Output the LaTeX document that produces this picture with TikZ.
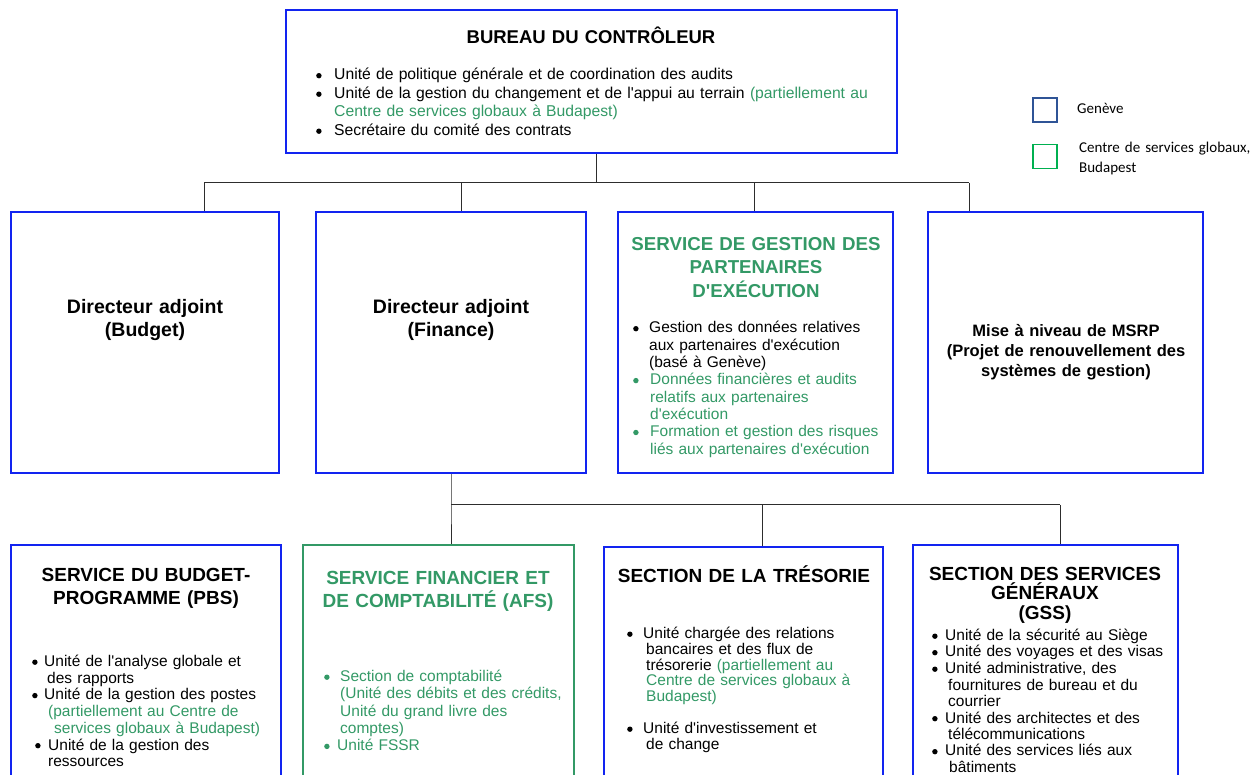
\documentclass[tikz,border=0pt]{standalone}
\usepackage{fontspec}
\setmainfont{Liberation Sans}[Ligatures=TeXOff]
\newfontfamily\legfont{Carlito}

\definecolor{boxblue}{RGB}{18,36,240}
\definecolor{gsgreen}{RGB}{51,153,102}
\definecolor{legblue}{RGB}{47,84,150}
\definecolor{leggreen}{RGB}{0,176,80}
\definecolor{linkgray}{RGB}{45,45,45}

% round bullet and bulleted paragraphs with a hanging indent
\newcommand\bdot{\tikz[baseline=-4.3pt]\fill (0,0) circle (2.7pt);}
\newcommand\bitem[2][14pt]{\hangindent=#1\hangafter=1\makebox[#1][l]{\bdot}#2}
\newcommand\gitem[2][14pt]{\hangindent=#1\hangafter=1{\color{gsgreen}\makebox[#1][l]{\bdot}#2}}
\newcommand\fsz[2]{\fontsize{#1}{#2}\selectfont}

\tikzset{
  unitbox/.style={draw=boxblue, line width=1.8pt, inner sep=0pt},
  gsbox/.style={draw=gsgreen, line width=1.8pt, inner sep=0pt},
  headtxt/.style={inner sep=0pt, anchor=base, align=center, text width=320pt},
  listtxt/.style={inner sep=0pt, anchor=base west, align=left},
  link/.style={draw=linkgray, line width=1pt},
  legbox/.style={line width=1.6pt, minimum size=24pt, inner sep=0pt},
}

\begin{document}
\begin{tikzpicture}[x=1pt, y=-1pt]
\useasboundingbox (0,0) rectangle (1254,775);
\clip (0,0) rectangle (1254,775);

% ---------- Bureau du Contrôleur ----------
\node[unitbox, minimum width=611pt, minimum height=143pt] (top) at (591.5,81.5) {};
\node[headtxt, font=\bfseries\fsz{18.5}{22}] (topT) at (591,44) {BUREAU DU CONTRÔLEUR};
\node[listtxt, text width=575pt, font=\fsz{15.7}{18.5}] (topL) at (316,80) {%
\bitem[18pt]{Unité de politique générale et de coordination des audits}\par
\bitem[18pt]{Unité de la gestion du changement et de l'appui au terrain \textcolor{gsgreen}{(partiellement au\newline Centre de services globaux à Budapest)}}\par
\bitem[18pt]{Secrétaire du comité des contrats}\par};

% ---------- legend ----------
\node[legbox, draw=legblue] (lgb) at (1045,110) {};
\node[inner sep=0pt, anchor=base west, font=\legfont\fsz{15}{20}] (lgbT) at (1077,114) {Genève};
\node[legbox, draw=leggreen] (lgg) at (1045,156.5) {};
\node[listtxt, text width=240pt, font=\legfont\fsz{15}{20}] (lggT) at (1079,153) {Centre de services globaux,\newline Budapest};

% ---------- second level ----------
\node[unitbox, minimum width=268pt, minimum height=261pt] (dbud) at (145,342.5) {};
\node[headtxt, font=\bfseries\fsz{19.5}{23}] (dbudT) at (145,314) {Directeur adjoint\\(Budget)};

\node[unitbox, minimum width=270pt, minimum height=261pt] (dfin) at (451,342.5) {};
\node[headtxt, font=\bfseries\fsz{19.5}{23}] (dfinT) at (451,314) {Directeur adjoint\\(Finance)};

\node[unitbox, minimum width=275pt, minimum height=261pt] (sgpe) at (755.5,342.5) {};
\node[headtxt, font=\bfseries\fsz{18.7}{23.5}, text=gsgreen] (sgpeT) at (756,250.5) {SERVICE DE GESTION DES\\PARTENAIRES\\D'EXÉCUTION};
\node[listtxt, text width=285pt, font=\fsz{15.5}{17.3}] (sgpeL) at (633,333) {%
\bitem[16pt]{Gestion des données relatives\newline aux partenaires d'exécution\newline (basé à Genève)}\par
\gitem[17pt]{Données financières et audits\newline relatifs aux partenaires\newline d'exécution}\par
\gitem[17pt]{Formation et gestion des risques\newline liés aux partenaires d'exécution}\par};

\node[unitbox, minimum width=275pt, minimum height=261pt] (msrp) at (1065.5,342.5) {};
\node[headtxt, font=\bfseries\fsz{16.5}{20}] (msrpT) at (1066,337) {Mise à niveau de MSRP\\(Projet de renouvellement des\\systèmes de gestion)};

% ---------- third level ----------
\node[unitbox, minimum width=270pt, minimum height=255pt] (pbs) at (146,672.5) {};
\node[headtxt, font=\bfseries\fsz{19}{23}] (pbsT) at (146,581) {SERVICE DU BUDGET-\\PROGRAMME (PBS)};
\node[listtxt, text width=255pt, font=\fsz{15.5}{16.7}] (pbsL) at (32,666.5) {%
\bitem[12pt]{Unité de l'analyse globale et\newline\hspace*{3pt}des rapports}\par
\bitem[12pt]{Unité de la gestion des postes\newline\textcolor{gsgreen}{\hspace*{4pt}(partiellement au Centre de\newline\hspace*{10pt}services globaux à Budapest)}}\par
\hspace*{3pt}\bitem[13pt]{Unité de la gestion des\newline\hspace*{3pt}ressources}\par};

\node[gsbox, minimum width=271pt, minimum height=255pt] (afs) at (438.5,672.5) {};
\node[headtxt, font=\bfseries\fsz{19}{23}, text=gsgreen] (afsT) at (438,584) {SERVICE FINANCIER ET\\DE COMPTABILITÉ (AFS)};
\node[listtxt, text width=265pt, font=\fsz{15.5}{17.3}] (afsL) at (324,681.5) {%
\gitem[16pt]{Section de comptabilité\newline (Unité des débits et des crédits,\newline Unité du grand livre des\newline comptes)}\par
\gitem[13pt]{Unité FSSR}\par};

\node[unitbox, minimum width=279pt, minimum height=253pt] (tres) at (743.5,673.5) {};
\node[headtxt, font=\bfseries\fsz{19}{23}] (tresT) at (744,583) {SECTION DE LA TRÉSORIE};
\node[listtxt, text width=260pt, font=\fsz{15.5}{15.8}] (tresL) at (627,638.5) {%
\bitem[16pt]{Unité chargée des relations\newline\hspace*{3pt}bancaires et des flux de\newline\hspace*{3pt}trésorerie \textcolor{gsgreen}{(partiellement au\newline\hspace*{3pt}Centre de services globaux à\newline\hspace*{3pt}Budapest)}}\par\vspace{16pt}
\bitem[16pt]{Unité d'investissement et\newline\hspace*{3pt}de change}\par};

\node[unitbox, minimum width=265pt, minimum height=255pt] (gss) at (1045.5,672.5) {};
\node[headtxt, font=\bfseries\fsz{19}{19.5}] (gssT) at (1045,580) {SECTION DES SERVICES\\GÉNÉRAUX\\(GSS)};
\node[listtxt, text width=255pt, font=\fsz{15.5}{16.5}] (gssL) at (932,640.5) {%
\bitem[13pt]{Unité de la sécurité au Siège}\par
\bitem[13pt]{Unité des voyages et des visas}\par
\bitem[13pt]{Unité administrative, des\newline\hspace*{3pt}fournitures de bureau et du\newline\hspace*{3pt}courrier}\par
\bitem[13pt]{Unité des architectes et des\newline\hspace*{3pt}télécommunications}\par
\bitem[13pt]{Unité des services liés aux\newline\hspace*{4pt}bâtiments}\par};

% ---------- connectors ----------
\coordinate (j0) at (596,183);
\coordinate (j1) at (204,183);
\coordinate (j2) at (461,183);
\coordinate (j3) at (754,183);
\coordinate (j4) at (969,183);
\draw[link] (top.south -| j0) -- (j0);
\draw[link] (j1) -- (j4);
\draw[link] (j1) -- (j1 |- dbud.north);
\draw[link] (j2) -- (j2 |- dfin.north);
\draw[link] (j3) -- (j3 |- sgpe.north);
\draw[link] (j4) -- (j4 |- msrp.north);

\coordinate (k0) at (451,505);
\coordinate (k1) at (762,505);
\coordinate (k2) at (1060,505);
\draw[link] (dfin.south -| k0) -- (k0) -- (k0 |- afs.north);
\draw[link] (k0) -- (k2);
\draw[link] (k1) -- (k1 |- tres.north);
\draw[link] (k2) -- (k2 |- gss.north);
\end{tikzpicture}
\end{document}
